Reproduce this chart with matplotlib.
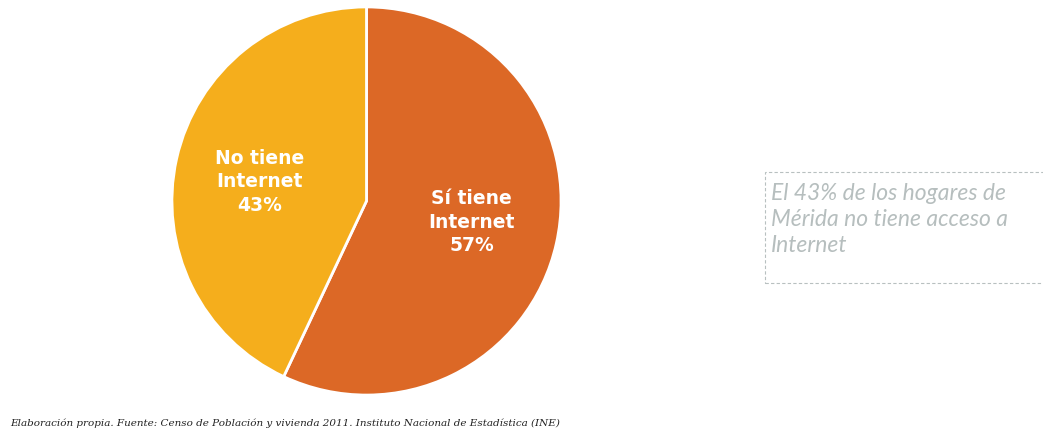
import matplotlib.pyplot as plt
from matplotlib.patches import Rectangle

# datos del grafico
etiquetas = ['Sí tiene\nInternet\n57%', 'No tiene\nInternet\n43%']
valores = [57, 43]
colores = ['#dc6826', '#f5ae1c']
pos_etiquetas = [(0.54, -0.11), (-0.55, 0.10)]

nota = 'El 43% de los hogares de\nMérida no tiene acceso a\nInternet'
fuente = ('Elaboración propia. Fuente: Censo de Población y vivienda 2011. '
          'Instituto Nacional de Estadística (INE)')

W, H = 1043, 446
fig = plt.figure(figsize=(W/100, H/100), dpi=100)

# pastel
ax = fig.add_axes([170/W, (H-397)/H, 393/W, 392/H])
ax.pie(valores, colors=colores, startangle=90, counterclock=False,
       wedgeprops=dict(edgecolor='white', linewidth=2))
ax.set_aspect('auto')
ax.set_xlim(-1.01, 1.01)
ax.set_ylim(-1.01, 1.01)
for txt, (x, y) in zip(etiquetas, pos_etiquetas):
    ax.text(x, y, txt, ha='center', va='center', color='white',
            fontsize=13.5, fontweight='bold', linespacing=1.3)

# recuadro con la nota
fig.patches.append(Rectangle((765/W, (H-283)/H), 290/W, 111/H,
                             transform=fig.transFigure, fill=False,
                             edgecolor='#b8c0c0', linestyle=(0, (3, 2)),
                             linewidth=0.8))
fig.text(771/W, (H-183)/H, nota, ha='left', va='top', color='#b6bebe',
         fontsize=16.5, style='italic', family='Lato', linespacing=1.28)

# fuente
fig.text(10/W, (H-423)/H, fuente, ha='left', va='center', color='#222222',
         fontsize=7.5, style='italic', family='DejaVu Serif')

fig.savefig('out.png', dpi=100)
